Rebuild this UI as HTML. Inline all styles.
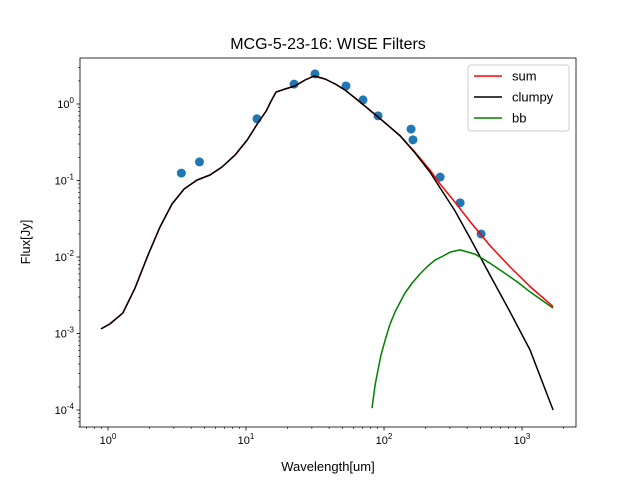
<!DOCTYPE html>
<html><head><meta charset="utf-8"><style>
body{margin:0;background:#fff;}
svg{display:block;font-family:"Liberation Sans","DejaVu Sans",sans-serif;}
</style></head><body>
<svg id="chart" width="640" height="480" viewBox="0 0 640 480" xmlns="http://www.w3.org/2000/svg">
<rect width="640" height="480" fill="#fff"/>
<text x="328" y="49" font-size="16" text-anchor="middle">MCG-5-23-16: WISE Filters</text>
<g id="plot"></g>
<text x="328" y="471" font-size="13" text-anchor="middle">Wavelength[um]</text>
<text x="30" y="242" font-size="13" text-anchor="middle" transform="rotate(-90 30 242)">Flux[Jy]</text>
</svg>
<script>
const obsX=[3.4,4.6,12,22.3,31.6,53,70.4,90.5,157,162,255,356,505];
const obsY=[0.125,0.175,0.64,1.82,2.47,1.72,1.13,0.70,0.47,0.34,0.111,0.051,0.020];
const clumpyX=[0.89,1.03,1.28,1.57,1.95,2.38,2.91,3.56,4.42,5.48,6.70,8.32,10.2,12.2,14.0,15.2,16.5,19.2,22.6,26.8,31.1,37.4,44.2,52.2,67.0,102,131,168,215,255,327,420,586,819,1143,1678];
const clumpyY=[1.15e-3,1.33e-3,1.85e-3,3.94e-3,0.0106,0.0247,0.0493,0.0774,0.1016,0.118,0.150,0.215,0.338,0.565,0.81,1.09,1.43,1.57,1.72,2.06,2.32,2.12,1.83,1.52,1.06,0.565,0.382,0.229,0.129,0.080,0.040,0.0177,5.8e-3,1.91e-3,6.1e-4,1.0e-4];
const bbX=[81.8,86.1,90.5,95.1,102,110,120,131,142,160,182,208,234,268,301,356,456,586,693,819,968,1143,1349,1678];
const bbY=[1.06e-4,2.12e-4,3.33e-4,5.24e-4,8.2e-4,1.29e-3,1.91e-3,2.58e-3,3.38e-3,4.57e-3,6.0e-3,7.62e-3,9.1e-3,0.0103,0.0116,0.0124,0.0109,8.3e-3,6.76e-3,5.5e-3,4.44e-3,3.5e-3,2.83e-3,2.15e-3];
const xTickExp=[0,1,2,3];
const yTickExp=[-4,-3,-2,-1,0];

const L=80,R=576,T=58,B=427;
const xMin=-0.203,xMax=3.391,yMin=-4.222,yMax=0.601;
const sx=v=>L+(Math.log10(v)-xMin)/(xMax-xMin)*(R-L);
const sy=v=>B-(Math.log10(v)-yMin)/(yMax-yMin)*(B-T);
const NS="http://www.w3.org/2000/svg";
const g=document.getElementById('plot');
function mk(t,a){const e=document.createElementNS(NS,t);for(const k in a)e.setAttribute(k,a[k]);g.appendChild(e);return e;}

for(const e of xTickExp){
  const x=sx(Math.pow(10,e));
  const tk=mk('line',{x1:x,x2:x,y1:B,y2:B+3.5,stroke:'#000','stroke-width':0.8});
  
  
  const t=mk('text',{x:x,y:B+17,'font-size':11,'text-anchor':'middle'});
  
  
  t.innerHTML='10<tspan dy="-5" font-size="8">'+e+'</tspan>';
}
for(let e=-1;e<=3;e++)for(let m=2;m<=9;m++){
  const v=m*Math.pow(10,e);if(Math.log10(v)<xMin||Math.log10(v)>xMax)continue;
  const x=sx(v);const tk=mk('line',{x1:x,x2:x,y1:B,y2:B+2,stroke:'#000','stroke-width':0.6});
  
  
}
for(const e of yTickExp){
  const y=sy(Math.pow(10,e));
  const tk=mk('line',{x1:L-3.5,x2:L,y1:y,y2:y,stroke:'#000','stroke-width':0.8});
  
  
  const t=mk('text',{x:L-6,y:y+4,'font-size':11,'text-anchor':'end'});
  
  
  t.innerHTML='10<tspan dy="-5" font-size="8">'+e+'</tspan>';
}
for(let e=-5;e<=0;e++)for(let m=2;m<=9;m++){
  const v=m*Math.pow(10,e);if(Math.log10(v)<yMin||Math.log10(v)>yMax)continue;
  const y=sy(v);const tk=mk('line',{x1:L-2,x2:L,y1:y,y2:y,stroke:'#000','stroke-width':0.6});
  
  
}

function bbAt(x){
  if(x<bbX[0]||x>bbX[bbX.length-1])return 0;
  for(let i=0;i<bbX.length-1;i++){if(x<=bbX[i+1]){
    const f=(Math.log10(x)-Math.log10(bbX[i]))/(Math.log10(bbX[i+1])-Math.log10(bbX[i]));
    return Math.pow(10,Math.log10(bbY[i])+f*(Math.log10(bbY[i+1])-Math.log10(bbY[i])));}}
  return 0;
}
const sumY=clumpyX.map((x,i)=>clumpyY[i]+bbAt(x));
function path(xs,ys,color,name){
  const d=xs.map((x,i)=>(i?'L':'M')+sx(x).toFixed(1)+','+sy(ys[i]).toFixed(1)).join('');
  const p=mk('path',{d:d,fill:'none',stroke:color,'stroke-width':1.5,'stroke-linejoin':'round'});
  
  
}
for(let i=0;i<obsX.length;i++){
  const c=mk('circle',{cx:sx(obsX[i]),cy:sy(obsY[i]),r:4.5,fill:'#1f77b4'});
  
  
}
path(clumpyX,sumY,'#ff0000','sum-line');
path(clumpyX,clumpyY,'#000000','clumpy-line');
path(bbX,bbY,'#008000','bb-line');

const fr=mk('rect',{x:L,y:T,width:R-L,height:B-T,fill:'none',stroke:'#000','stroke-width':0.8});



const lg=mk('rect',{x:468,y:65,width:101,height:66,fill:'#fff',stroke:'#ccc',rx:3});


const names=['sum','clumpy','bb'],cols=['#ff0000','#000000','#008000'];
names.forEach((n,i)=>{
  const y=76+i*21;
  const l=mk('line',{x1:474,x2:502,y1:y,y2:y,stroke:cols[i],'stroke-width':1.5});
  
  
  const t=mk('text',{x:512,y:y+4.5,'font-size':13});
  
  
  t.textContent=n;
});
</script>
</body></html>
